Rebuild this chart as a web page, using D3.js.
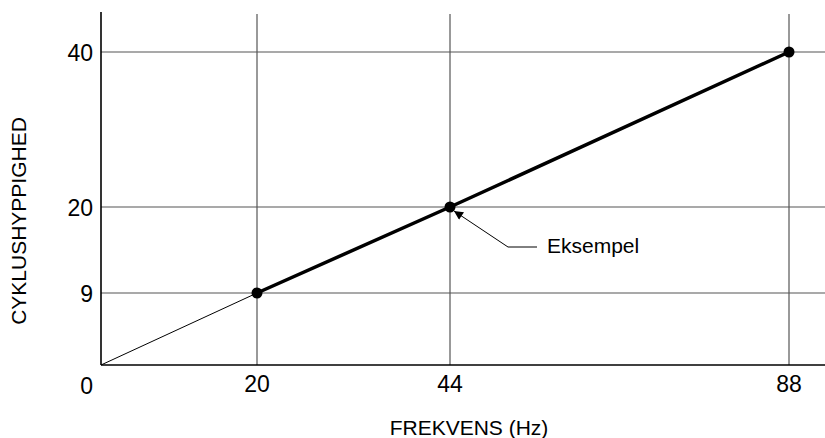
<!DOCTYPE html>
<html lang="da">
<head>
  <meta charset="UTF-8">
  <title>Cyklushyppighed</title>
  <script src="https://d3js.org/d3.v7.min.js"></script>
  <style>
    body { margin: 0; background: #fff; }
    svg { display: block; font-family: "Liberation Sans", Arial, sans-serif; }
    .grid { stroke: #555; stroke-width: 1.2; }
    .axis { stroke: #000; stroke-width: 1.6; }
    .tick { font-size: 23px; fill: #000; }
    .title { font-size: 21px; fill: #000; }
  </style>
</head>
<body>
  <svg id="chart" width="825" height="438"></svg>
  <script>
    // data
    const xTicks = [20, 44, 88];
    const yTicks = [9, 20, 40];
    const thinLine = [[0, 0], [20, 9]];
    const thickLine = [[20, 9], [44, 20], [88, 40]];
    const points = [[20, 9], [44, 20], [88, 40]];
    const note = { x: 44, y: 20, label: "Eksempel" };

    const svg = d3.select("#chart");

    // the original axes are not linear, so the scale is piecewise
    const x = d3.scaleLinear().domain([0, 20, 44, 88]).range([101, 257, 450, 789]);
    const y = d3.scaleLinear().domain([0, 9, 20, 40]).range([365, 293, 207, 52]);
    const right = 825;

    svg.append("defs").append("marker")
      .attr("id", "arrow")
      .attr("viewBox", "0 0 10 10")
      .attr("refX", 10).attr("refY", 5)
      .attr("markerWidth", 14).attr("markerHeight", 9)
      .attr("markerUnits", "userSpaceOnUse")
      .attr("orient", "auto")
      .append("path")
      .attr("d", "M0,0L10,5L0,10z")
      .attr("fill", "#000");

    // gridlines
    svg.append("g").selectAll("line")
      .data(xTicks)
      .enter().append("line")
      .attr("class", "grid")
      .attr("x1", d => x(d)).attr("x2", d => x(d))
      .attr("y1", 14).attr("y2", y(0));

    svg.append("g").selectAll("line")
      .data(yTicks)
      .enter().append("line")
      .attr("class", "grid")
      .attr("x1", x(0)).attr("x2", right)
      .attr("y1", d => y(d)).attr("y2", d => y(d));

    // axes
    svg.append("line").attr("class", "axis")
      .attr("x1", x(0)).attr("x2", x(0)).attr("y1", 12).attr("y2", y(0));
    svg.append("line").attr("class", "axis")
      .attr("x1", x(0)).attr("x2", right).attr("y1", y(0)).attr("y2", y(0));

    // tick labels
    svg.append("g").selectAll("text")
      .data(xTicks)
      .enter().append("text")
      .attr("class", "tick")
      .attr("text-anchor", "middle")
      .attr("x", d => x(d)).attr("y", y(0) + 27)
      .text(d => d);

    svg.append("g").selectAll("text")
      .data([0].concat(yTicks))
      .enter().append("text")
      .attr("class", "tick")
      .attr("text-anchor", "end")
      .attr("x", x(0) - 8)
      .attr("y", d => d === 0 ? y(0) + 29 : y(d) + 8.5)
      .text(d => d);

    // axis titles
    svg.append("text").attr("class", "title")
      .attr("text-anchor", "middle")
      .attr("x", 469).attr("y", 435)
      .text("FREKVENS (Hz)");

    svg.append("text").attr("class", "title")
      .attr("text-anchor", "middle")
      .attr("transform", "translate(26,221) rotate(-90)")
      .text("CYKLUSHYPPIGHED");

    // lines
    const line = d3.line().x(d => x(d[0])).y(d => y(d[1]));
    svg.append("path").datum(thinLine)
      .attr("d", line).attr("fill", "none")
      .attr("stroke", "#000").attr("stroke-width", 1);
    svg.append("path").datum(thickLine)
      .attr("d", line).attr("fill", "none")
      .attr("stroke", "#000").attr("stroke-width", 3.5);

    svg.append("g").selectAll("circle")
      .data(points)
      .enter().append("circle")
      .attr("cx", d => x(d[0])).attr("cy", d => y(d[1]))
      .attr("r", 5.5).attr("fill", "#000");

    // annotation
    const nx = x(note.x), ny = y(note.y);
    svg.append("path")
      .attr("d", `M${nx + 87},${ny + 40}L${nx + 58},${ny + 40}L${nx + 4},${ny + 4}`)
      .attr("fill", "none").attr("stroke", "#000").attr("stroke-width", 1)
      .attr("marker-end", "url(#arrow)");
    svg.append("text").attr("class", "title")
      .attr("x", nx + 97).attr("y", ny + 46)
      .text(note.label);
  </script>
</body>
</html>
